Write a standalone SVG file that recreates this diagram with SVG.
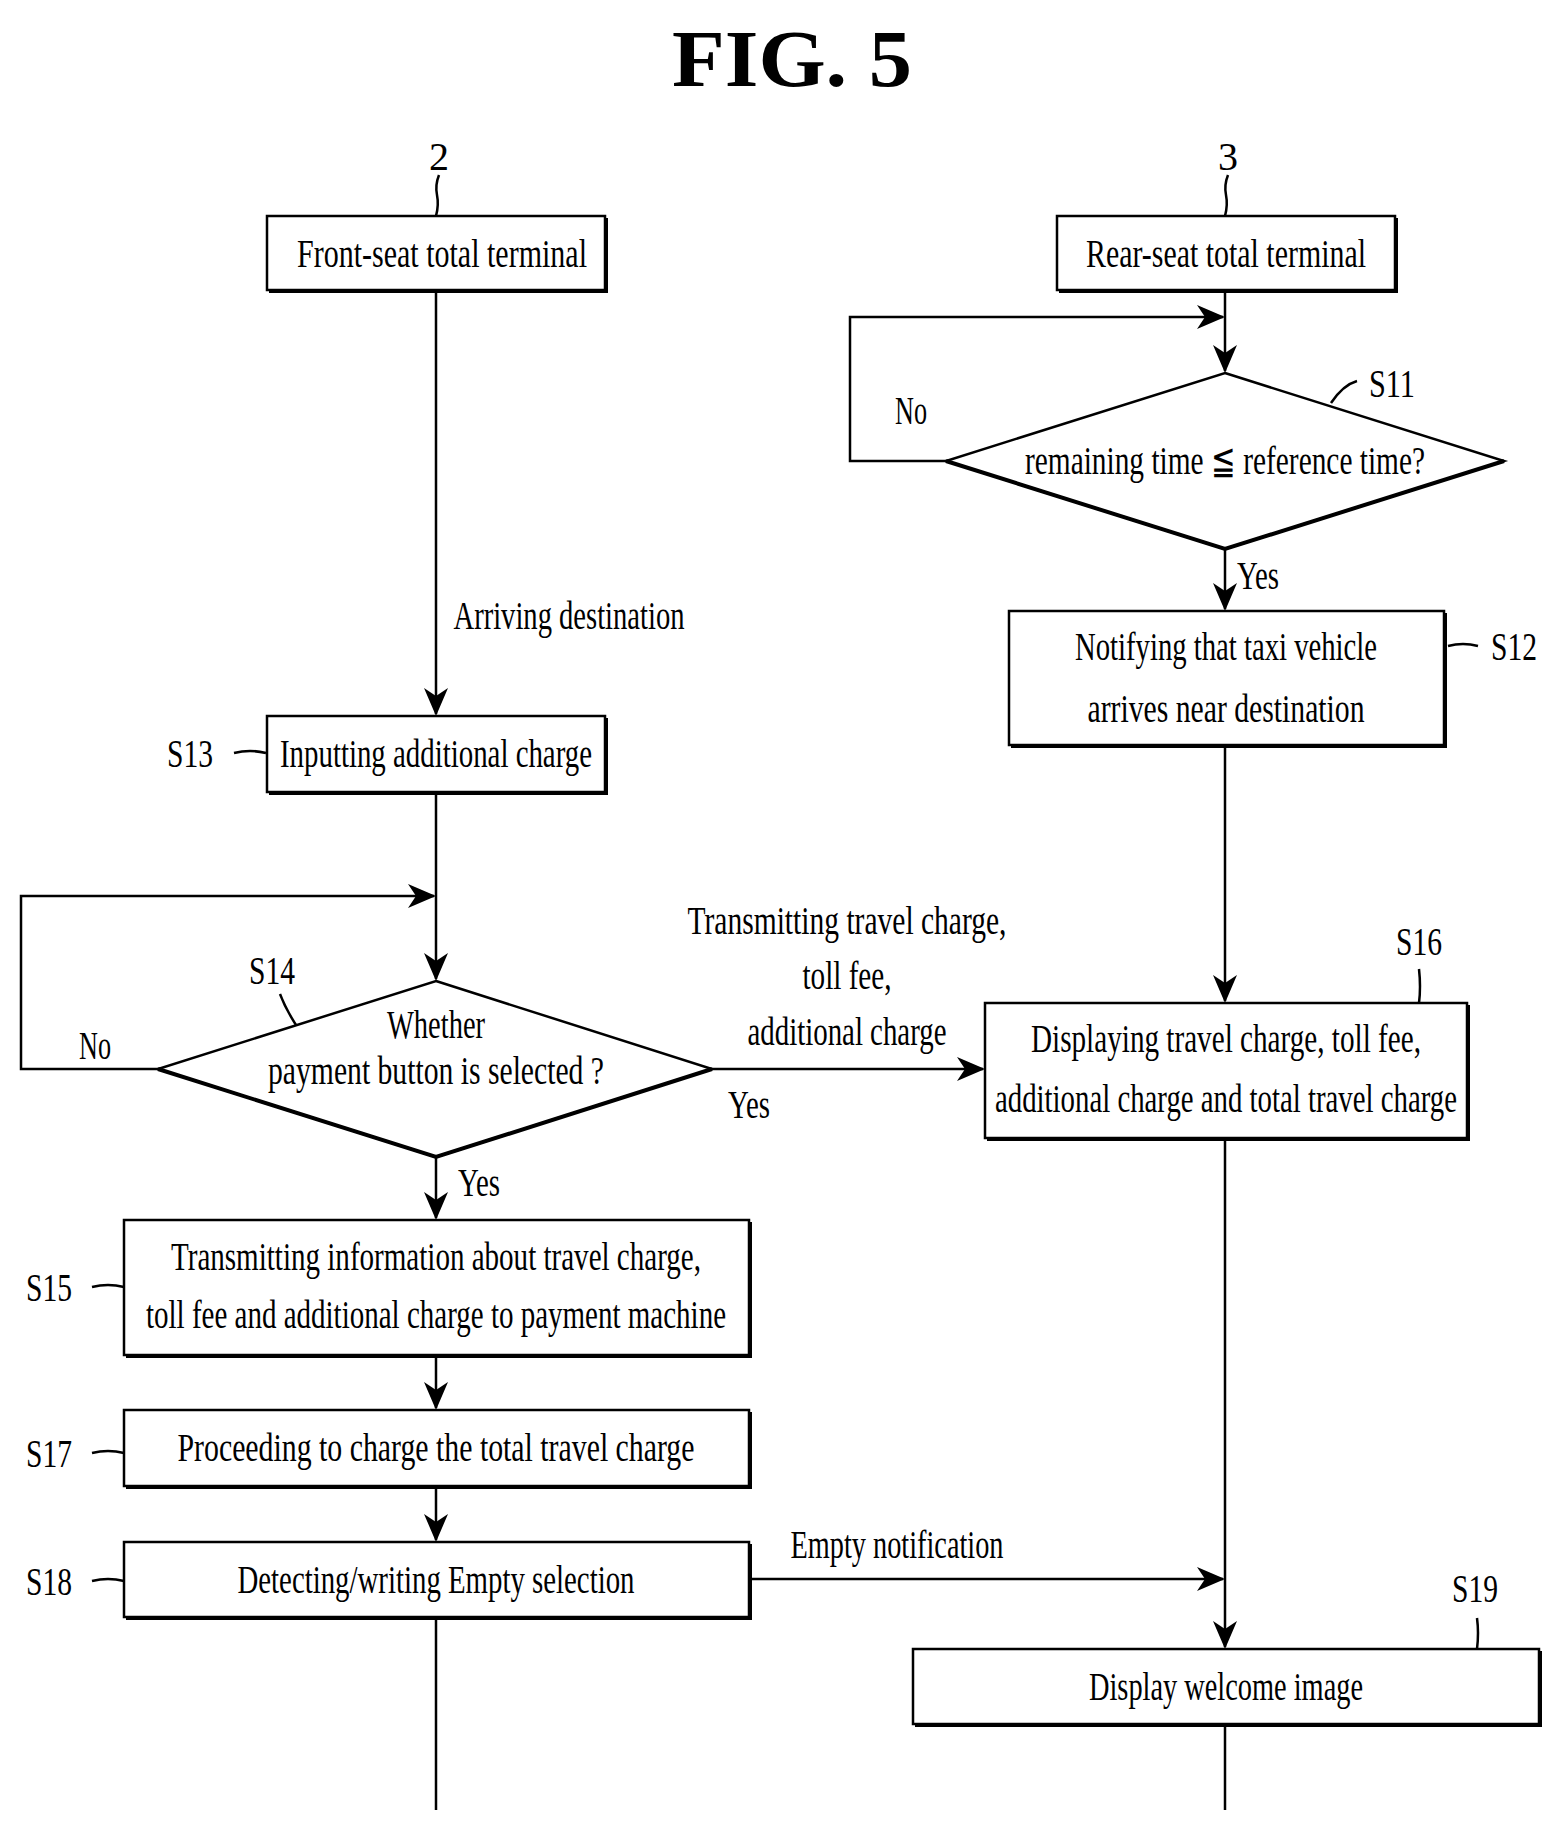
<svg xmlns="http://www.w3.org/2000/svg" width="1558" height="1827" viewBox="0 0 1558 1827">
<style>
text{font-family:"Liberation Serif","DejaVu Serif",serif;font-size:40px;fill:#000;text-anchor:middle}
.l{fill:none;stroke:#000;stroke-width:2.5}
.b{fill:#fff;stroke:#000;stroke-width:2.5}
.s{fill:none;stroke:#000;stroke-width:4}
.st{text-anchor:start}
</style>
<defs><marker id="a" markerWidth="12" markerHeight="12" refX="11" refY="6" orient="auto" markerUnits="userSpaceOnUse" viewBox="0 0 12 12"><path d="M0,0 L12,6 L0,12 L4,6 Z" fill="#000"/></marker>
<marker id="b" markerWidth="28" markerHeight="24" refX="26" refY="12" orient="auto" markerUnits="userSpaceOnUse" viewBox="0 0 28 24"><path d="M0,0 L28,12 L0,24 L8,12 Z" fill="#000"/></marker></defs>
<rect width="1558" height="1827" fill="#fff"/>
<text x="792" y="86" style="font-size:80px;font-weight:bold" textLength="240" lengthAdjust="spacingAndGlyphs">FIG. 5</text>
<g id="connectors">
<path class="l" d="M436 290V714" marker-end="url(#b)"/>
<path class="l" d="M436 792V979" marker-end="url(#b)"/>
<path class="l" d="M158 1069H21V896H434" marker-end="url(#b)"/>
<path class="l" d="M712 1069H983" marker-end="url(#b)"/>
<path class="l" d="M436 1157V1218" marker-end="url(#b)"/>
<path class="l" d="M436 1355V1408" marker-end="url(#b)"/>
<path class="l" d="M436 1486V1540" marker-end="url(#b)"/>
<path class="l" d="M436 1617V1810"/>
<path class="l" d="M1225 290V371" marker-end="url(#b)"/>
<path class="l" d="M946 461H850V317H1223" marker-end="url(#b)"/>
<path class="l" d="M1225 549V609" marker-end="url(#b)"/>
<path class="l" d="M1225 745V1001" marker-end="url(#b)"/>
<path class="l" d="M1225 1138V1647" marker-end="url(#b)"/>
<path class="l" d="M749 1579H1223" marker-end="url(#b)"/>
<path class="l" d="M1225 1724V1810"/>
<path class="l" d="M439 175q-4 10 -2 20t-1 21"/>
<path class="l" d="M1228 175q-4 10 -2 20t-1 21"/>
<path class="l" d="M1331 403q12 -18 26 -22"/>
<path class="l" d="M1448 646q15 -4 30 0"/>
<path class="l" d="M234 753q16 -4 32 0"/>
<path class="l" d="M298 1028q-12 -18 -18 -34"/>
<path class="l" d="M1419 969q2 18 0 34"/>
<path class="l" d="M92 1287q16 -4 32 0"/>
<path class="l" d="M92 1453q16 -4 32 0"/>
<path class="l" d="M92 1581q16 -4 32 0"/>
<path class="l" d="M1477 1618q2 15 0 31"/>
</g>
<g id="t2"><text x="439" y="170">2</text></g>
<g id="t3"><text x="1228" y="170">3</text></g>
<g id="front"><rect class="b" x="267" y="216" width="338" height="74"/><path class="s" d="M269 291H606V218"/><text x="442" y="267" textLength="290" lengthAdjust="spacingAndGlyphs">Front-seat total terminal</text></g>
<g id="rear"><rect class="b" x="1057" y="216" width="338" height="74"/><path class="s" d="M1059 291H1396V218"/><text x="1226" y="267" textLength="280" lengthAdjust="spacingAndGlyphs">Rear-seat total terminal</text></g>
<g id="S11"><polygon class="b" points="1225,373 1504,461 1225,549 946,461"/><path class="s" d="M946 461L1225 549L1504 461"/><text x="1225" y="474" textLength="400" lengthAdjust="spacingAndGlyphs">remaining time ≦ reference time?</text><text x="1392" y="397" textLength="46" lengthAdjust="spacingAndGlyphs">S11</text><text x="911" y="424" textLength="32" lengthAdjust="spacingAndGlyphs">No</text><text x="1258" y="589" textLength="42" lengthAdjust="spacingAndGlyphs">Yes</text></g>
<g id="S12"><rect class="b" x="1009" y="611" width="435" height="134"/><path class="s" d="M1011 746H1445V613"/><text x="1226" y="660" textLength="302" lengthAdjust="spacingAndGlyphs">Notifying that taxi vehicle</text><text x="1226" y="722" textLength="277" lengthAdjust="spacingAndGlyphs">arrives near destination</text><text x="1514" y="660" textLength="46" lengthAdjust="spacingAndGlyphs">S12</text></g>
<g id="arr"><text x="569" y="629" textLength="231" lengthAdjust="spacingAndGlyphs">Arriving destination</text></g>
<g id="S13"><rect class="b" x="267" y="716" width="338" height="76"/><path class="s" d="M269 793H606V718"/><text x="436" y="767" textLength="312" lengthAdjust="spacingAndGlyphs">Inputting additional charge</text><text x="190" y="767" textLength="46" lengthAdjust="spacingAndGlyphs">S13</text></g>
<g id="S14"><polygon class="b" points="436,981 712,1069 436,1157 158,1069"/><path class="s" d="M158 1069L436 1157L712 1069"/><text x="436" y="1038" textLength="98" lengthAdjust="spacingAndGlyphs">Whether</text><text x="436" y="1084" textLength="336" lengthAdjust="spacingAndGlyphs">payment button is selected ?</text><text x="272" y="984" textLength="46" lengthAdjust="spacingAndGlyphs">S14</text><text x="95" y="1059" textLength="32" lengthAdjust="spacingAndGlyphs">No</text><text x="749" y="1118" textLength="42" lengthAdjust="spacingAndGlyphs">Yes</text><text x="479" y="1196" textLength="42" lengthAdjust="spacingAndGlyphs">Yes</text></g>
<g id="trans"><text x="847" y="934" textLength="319" lengthAdjust="spacingAndGlyphs">Transmitting travel charge,</text><text x="847" y="989" textLength="89" lengthAdjust="spacingAndGlyphs">toll fee,</text><text x="847" y="1045" textLength="199" lengthAdjust="spacingAndGlyphs">additional charge</text></g>
<g id="S16"><rect class="b" x="985" y="1003" width="482" height="135"/><path class="s" d="M987 1139H1468V1005"/><text x="1226" y="1052" textLength="390" lengthAdjust="spacingAndGlyphs">Displaying travel charge, toll fee,</text><text x="1226" y="1112" textLength="462" lengthAdjust="spacingAndGlyphs">additional charge and total travel charge</text><text x="1419" y="955" textLength="46" lengthAdjust="spacingAndGlyphs">S16</text></g>
<g id="S15"><rect class="b" x="124" y="1220" width="625" height="135"/><path class="s" d="M126 1356H750V1222"/><text x="436" y="1270" textLength="530" lengthAdjust="spacingAndGlyphs">Transmitting information about travel charge,</text><text x="436" y="1328" textLength="580" lengthAdjust="spacingAndGlyphs">toll fee and additional charge to payment machine</text><text x="49" y="1301" textLength="46" lengthAdjust="spacingAndGlyphs">S15</text></g>
<g id="S17"><rect class="b" x="124" y="1410" width="625" height="76"/><path class="s" d="M126 1487H750V1412"/><text x="436" y="1461" textLength="517" lengthAdjust="spacingAndGlyphs">Proceeding to charge the total travel charge</text><text x="49" y="1467" textLength="46" lengthAdjust="spacingAndGlyphs">S17</text></g>
<g id="S18"><rect class="b" x="124" y="1542" width="625" height="75"/><path class="s" d="M126 1618H750V1544"/><text x="436" y="1593" textLength="397" lengthAdjust="spacingAndGlyphs">Detecting/writing Empty selection</text><text x="49" y="1595" textLength="46" lengthAdjust="spacingAndGlyphs">S18</text></g>
<g id="empty"><text x="897" y="1558" textLength="213" lengthAdjust="spacingAndGlyphs">Empty notification</text></g>
<g id="S19"><rect class="b" x="913" y="1649" width="626" height="75"/><path class="s" d="M915 1725H1540V1651"/><text x="1226" y="1700" textLength="274" lengthAdjust="spacingAndGlyphs">Display welcome image</text><text x="1475" y="1602" textLength="46" lengthAdjust="spacingAndGlyphs">S19</text></g>
</svg>
